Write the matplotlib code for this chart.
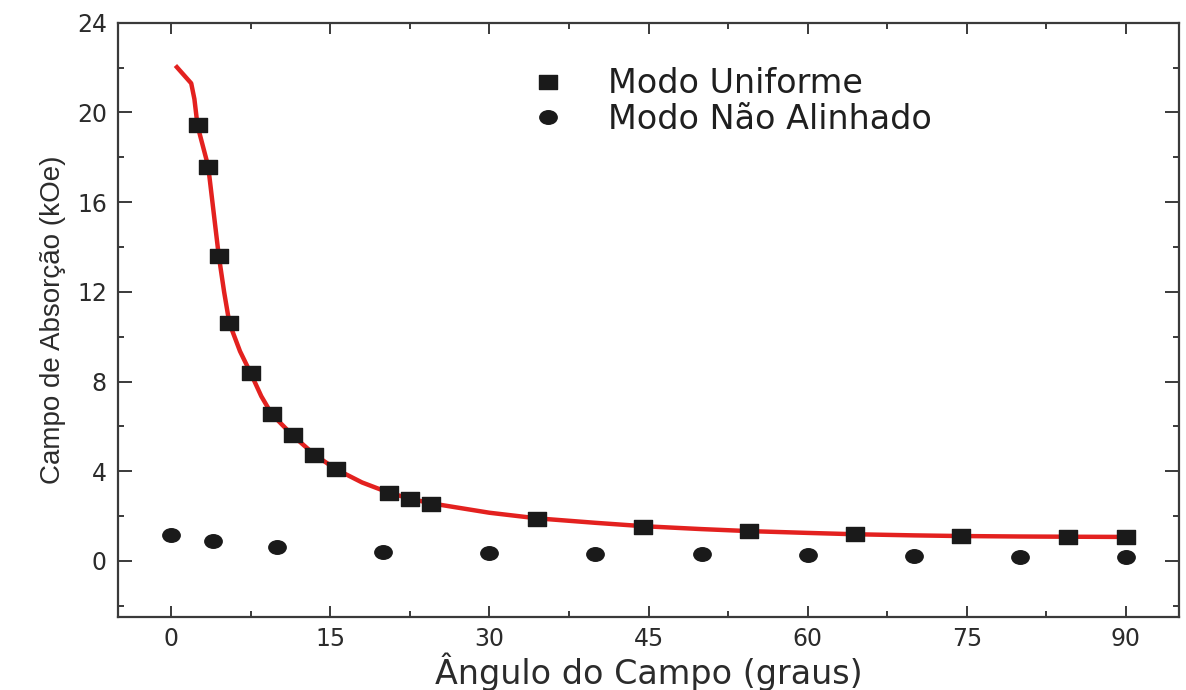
import numpy as np
import matplotlib
matplotlib.use("Agg")
import matplotlib.pyplot as plt
from matplotlib.path import Path
from matplotlib.ticker import MultipleLocator

# medidas: modo uniforme (quadrados)
ang_uniforme = [2.5, 3.5, 4.5, 5.5, 7.5, 9.5, 11.5, 13.5, 15.5, 20.5, 22.5, 24.5,
                34.5, 44.5, 54.5, 64.5, 74.5, 84.5, 90.0]
campo_uniforme = [19.42, 17.59, 13.58, 10.6, 8.38, 6.54, 5.62, 4.73, 4.12, 3.03, 2.78, 2.56,
                  1.89, 1.53, 1.32, 1.18, 1.11, 1.08, 1.07]

# medidas: modo nao alinhado (circulos)
ang_nao_alinhado = [0, 4, 10, 20, 30, 40, 50, 60, 70, 80, 90]
campo_nao_alinhado = [1.16, 0.89, 0.61, 0.42, 0.34, 0.30, 0.30, 0.25, 0.24, 0.19, 0.19]

# curva teorica (ajuste)
ang_ajuste = [0.55, 1.9, 2.2, 2.5, 3.0, 3.5, 4.0, 4.5, 5.0, 5.5, 6.5, 7.5, 8.5, 9.5,
              11.5, 13.5, 15.5, 18.0, 20.5, 22.5, 24.5, 30.0, 34.5, 40.0, 44.5, 50.0,
              54.5, 60.0, 64.5, 70.0, 74.5, 80.0, 84.5, 90.0]
campo_ajuste = [22.02, 21.3, 20.6, 19.4, 18.5, 17.6, 15.6, 13.6, 12.0, 10.6, 9.35, 8.38,
                7.35, 6.54, 5.58, 4.75, 4.1, 3.5, 3.05, 2.78, 2.57, 2.15, 1.9, 1.7,
                1.55, 1.42, 1.33, 1.25, 1.19, 1.14, 1.11, 1.09, 1.08, 1.07]

wide = ['DejaVu Sans']
narrow = ['Liberation Sans', 'DejaVu Sans']
plt.rcParams['font.family'] = wide

# marcadores um pouco achatados
sq = Path([(-0.5, -0.4), (0.5, -0.4), (0.5, 0.4), (-0.5, 0.4), (-0.5, -0.4)],
          [Path.MOVETO, Path.LINETO, Path.LINETO, Path.LINETO, Path.CLOSEPOLY])
circ = Path.unit_circle()
circ = Path(circ.vertices * np.array([1.0, 0.78]), circ.codes)

fig = plt.figure(figsize=(11.86, 6.9), dpi=100)
ax = fig.add_axes([0.0995, 0.1058, 0.8946, 0.8612])

ink = '#2b2b2b'
ax.plot(ang_ajuste, campo_ajuste, color='#e3211f', lw=3.2, zorder=2)
ax.plot(ang_uniforme, campo_uniforme, ls='none', marker=sq, ms=12.5, color='#1a1a1a',
        label='Modo Uniforme', zorder=3)
ax.plot(ang_nao_alinhado, campo_nao_alinhado, ls='none', marker=circ, ms=12.5,
        color='#1a1a1a', label='Modo Não Alinhado', zorder=3)

ax.set_xlim(-5, 95)
ax.set_ylim(-2.5, 24)
ax.xaxis.set_major_locator(MultipleLocator(15))
ax.xaxis.set_minor_locator(MultipleLocator(7.5))
ax.yaxis.set_major_locator(MultipleLocator(4))
ax.yaxis.set_minor_locator(MultipleLocator(2))

for s in ax.spines.values():
    s.set_linewidth(1.6)
    s.set_color('#3a3a3a')

ax.tick_params(which='both', direction='in', top=True, right=True, color='#3a3a3a',
               width=1.4)
ax.tick_params(axis='x', which='major', length=8, labelsize=17, pad=7, labelcolor=ink)
ax.tick_params(axis='y', which='major', length=10, labelsize=17, pad=8, labelcolor=ink)
ax.tick_params(which='minor', length=4.5)

ax.set_xlabel('Ângulo do Campo (graus)', fontsize=24, color=ink, labelpad=1)
ax.set_ylabel('Campo de Absorção (kOe)', fontsize=20, color=ink, family=narrow, labelpad=8)

leg = ax.legend(loc='upper left', bbox_to_anchor=(0.374, 0.925), frameon=False,
                fontsize=24, borderpad=0, borderaxespad=0, handlelength=2,
                handletextpad=0.8, labelspacing=0.08)
for t in leg.get_texts():
    t.set_color('#1f1f1f')

fig.savefig('out.png', dpi=100)
